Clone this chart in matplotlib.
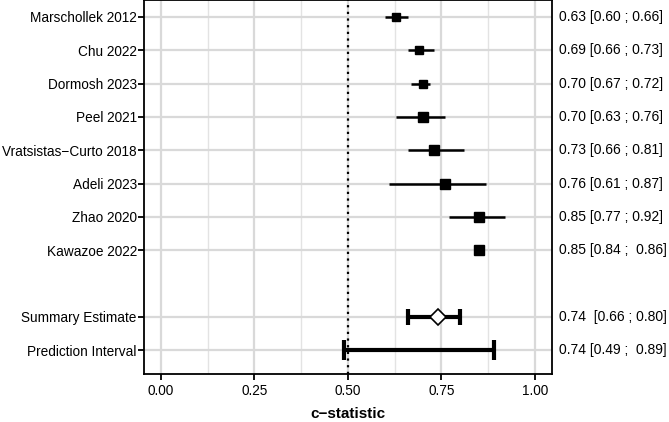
import matplotlib.pyplot as plt
import matplotlib.transforms as mtransforms
from matplotlib.ticker import MultipleLocator

plt.rcParams['font.family'] = ['Liberation Sans', 'DejaVu Sans']

# study-level c-statistics with 95% CI
studies = ['Marschollek 2012', 'Chu 2022', 'Dormosh 2023', 'Peel 2021',
           'Vratsistas\u2212Curto 2018', 'Adeli 2023', 'Zhao 2020', 'Kawazoe 2022']
est = [0.63, 0.69, 0.70, 0.70, 0.73, 0.76, 0.85, 0.85]
lower = [0.60, 0.66, 0.67, 0.63, 0.66, 0.61, 0.77, 0.84]
upper = [0.66, 0.73, 0.72, 0.76, 0.81, 0.87, 0.92, 0.86]
msize = [6.0, 6.3, 6.3, 6.5, 6.8, 7.3, 7.3, 7.0]

# pooled results
summary = [0.74, 0.66, 0.80]
pred = [0.74, 0.49, 0.89]

labels_right = ['0.63 [0.60 ; 0.66]', '0.69 [0.66 ; 0.73]', '0.70 [0.67 ; 0.72]',
                '0.70 [0.63 ; 0.76]', '0.73 [0.66 ; 0.81]', '0.76 [0.61 ; 0.87]',
                '0.85 [0.77 ; 0.92]', '0.85 [0.84 ;  0.86]']
summary_txt = '0.74  [0.66 ; 0.80]'
pred_txt = '0.74 [0.49 ;  0.89]'

study_pos = list(range(1, 9))
sum_pos = 10
pred_pos = 11

fig = plt.figure(figsize=(6.69, 4.22), dpi=100)
ax = fig.add_axes([0.2145, 0.1137, 0.825 - 0.2145, 0.8863])

ax.set_xlim(-0.047, 1.046)
ax.set_ylim(11.72, 0.49)

# grid
ax.xaxis.set_major_locator(MultipleLocator(0.25))
ax.xaxis.set_minor_locator(MultipleLocator(0.125))
ax.grid(which='major', color='#d9d9d9', lw=1.6, zorder=0)
ax.grid(which='minor', axis='x', color='#e3e3e3', lw=1.0, zorder=0)
ax.set_axisbelow(True)

ax.axvline(0.5, color='black', ls=(0, (1, 2)), lw=1.6, zorder=2)

# individual studies
for y, e, lo, hi, ms in zip(study_pos, est, lower, upper, msize):
    ax.plot([lo, hi], [y, y], color='black', lw=1.8, zorder=3, solid_capstyle='butt')
    ax.plot(e, y, marker='s', color='black', ms=ms, zorder=4, ls='none')

# summary estimate
ax.errorbar(summary[0], sum_pos,
            xerr=[[summary[0] - summary[1]], [summary[2] - summary[0]]],
            fmt='none', ecolor='black', elinewidth=3, capsize=6, capthick=3, zorder=3)
ax.plot(summary[0], sum_pos, marker='D', ms=8, mfc='white', mec='black', mew=1.2,
        zorder=4, ls='none')

# prediction interval
ax.errorbar(pred[0], pred_pos,
            xerr=[[pred[0] - pred[1]], [pred[2] - pred[0]]],
            fmt='none', ecolor='black', elinewidth=3, capsize=7, capthick=3, zorder=3)

ax.set_yticks(study_pos + [sum_pos, pred_pos])
ax.set_yticklabels(studies + ['Summary Estimate', 'Prediction Interval'])
ax.set_xticks([0, 0.25, 0.5, 0.75, 1.0])
ax.set_xticklabels(['0.00', '0.25', '0.50', '0.75', '1.00'])
ax.tick_params(axis='both', which='major', labelsize=9.8, colors='black',
               length=4, width=1.3)
ax.tick_params(axis='y', which='major', pad=0.8)
ax.tick_params(axis='x', which='major', pad=3)
ax.tick_params(axis='x', which='minor', length=0)

for s in ax.spines.values():
    s.set_linewidth(1.3)
    s.set_color('black')

ax.set_xlabel('c\u2212statistic', fontsize=11, fontweight='bold', labelpad=7)

# right-hand annotations
trans = mtransforms.blended_transform_factory(ax.transAxes, ax.transData)
for y, t in zip(study_pos, labels_right):
    ax.text(1.018, y, t, transform=trans, va='center', ha='left', fontsize=10)
ax.text(1.018, sum_pos, summary_txt, transform=trans, va='center', ha='left', fontsize=10)
ax.text(1.018, pred_pos, pred_txt, transform=trans, va='center', ha='left', fontsize=10)

fig.savefig('out.png', dpi=100)
